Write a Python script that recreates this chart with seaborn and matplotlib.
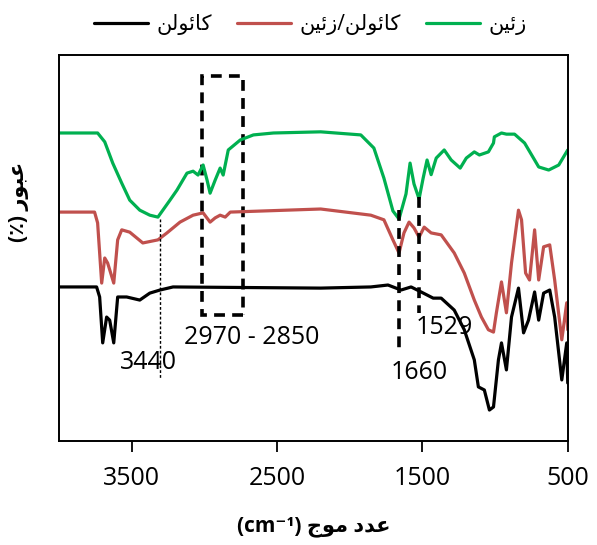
import pandas as pd
import matplotlib.pyplot as plt
import seaborn as sns
from matplotlib.patches import Rectangle

# Arabic-script labels written as visual-order presentation forms
# (matplotlib does no shaping or bidi on its own)
KAOLIN = "\uFEE6\uFEDF\uFEEE\uFE8B\uFE8E\uFB90"          # کائولن
ZEIN = "\uFEE6\uFBFF\uFE8B\uFEAF"                        # زئین
KAOLIN_ZEIN = ZEIN + "/" + KAOLIN                        # کائولن/زئین
YLABEL = "(\u066A) \uFEAD\uFEEE\uFE92\uFECB"              # عبور (٪)
XLABEL = "(cm\u207B\u00B9) \uFE9D\uFEEE\uFEE3 \uFEA9\uFEAA\uFECB"  # عدد موج (cm-1)

# zein spectrum
zein_wn = [4000, 3735, 3686, 3631, 3569, 3514, 3445, 3376, 3320, 3286, 3237, 3189,
           3120, 3078, 3044, 3009, 2982, 2961, 2926, 2892, 2871, 2836, 2753, 2663,
           2525, 2200, 1924, 1834, 1765, 1703, 1661, 1613, 1585, 1558, 1523, 1495,
           1468, 1440, 1405, 1350, 1302, 1240, 1198, 1143, 1108, 1046, 1011, 1005,
           956, 922, 866, 797, 728, 700, 631, 562, 500]
zein_t = [79.8, 79.8, 77.5, 72.0, 66.8, 62.4, 59.8, 58.5, 58.0, 59.8, 62.4, 65.0,
          69.4, 69.9, 68.9, 71.5, 67.6, 64.2, 67.6, 70.7, 68.9, 75.4, 78.0, 79.3,
          79.8, 80.1, 79.3, 75.9, 68.1, 59.6, 57.5, 64.0, 72.0, 66.6, 62.7, 68.1,
          72.8, 69.0, 73.3, 75.4, 72.8, 70.7, 73.3, 74.9, 74.1, 74.9, 77.2, 78.8,
          79.8, 79.5, 79.5, 77.2, 72.8, 71.0, 70.2, 71.5, 75.4]

# kaolin/zein spectrum
kz_wn = [4000, 3756, 3735, 3707, 3686, 3666, 3624, 3597, 3569, 3514, 3424, 3320,
         3258, 3168, 3078, 3009, 2961, 2926, 2892, 2857, 2822, 2200, 1855, 1765,
         1703, 1661, 1627, 1592, 1558, 1523, 1488, 1440, 1371, 1281, 1212, 1143,
         1094, 1046, 1011, 991, 956, 922, 887, 839, 818, 790, 763, 728, 700, 666,
         624, 590, 541, 507, 500]
kz_t = [59.3, 59.3, 56.5, 40.9, 47.4, 46.1, 40.9, 52.1, 54.7, 54.1, 51.3, 52.1,
        53.9, 56.7, 58.5, 59.1, 56.7, 57.8, 58.5, 58.0, 59.3, 60.1, 58.5, 57.3,
        52.1, 48.7, 53.9, 56.7, 55.2, 52.8, 55.4, 53.9, 53.4, 48.7, 43.5, 36.5,
        32.1, 28.8, 28.2, 33.2, 41.2, 33.2, 46.1, 59.8, 57.3, 43.5, 41.7, 54.7,
        41.7, 50.3, 50.8, 41.7, 26.2, 35.8, 28.8]

# kaolin spectrum
kaolin_wn = [4000, 3742, 3721, 3700, 3673, 3652, 3624, 3597, 3535, 3445, 3376, 3306,
             3216, 2200, 1855, 1737, 1647, 1578, 1509, 1426, 1371, 1281, 1212, 1143,
             1115, 1074, 1039, 1011, 977, 956, 922, 887, 839, 804, 770, 728, 700,
             666, 624, 590, 541, 507, 500]
kaolin_t = [39.9, 39.9, 37.3, 25.4, 32.1, 31.3, 25.4, 37.3, 37.3, 36.5, 38.3, 39.1,
            39.9, 39.6, 39.9, 40.4, 39.1, 39.9, 38.6, 37.0, 37.0, 33.9, 28.8, 21.0,
            14.0, 13.2, 8.0, 8.8, 21.0, 25.4, 18.4, 32.1, 39.6, 28.0, 31.3, 38.6,
            31.3, 38.3, 39.1, 32.1, 15.8, 25.4, 15.0]

xticks = [3500, 2500, 1500, 500]

df = pd.concat([
    pd.DataFrame({"wn": kaolin_wn, "t": kaolin_t, "sample": KAOLIN}),
    pd.DataFrame({"wn": kz_wn, "t": kz_t, "sample": KAOLIN_ZEIN}),
    pd.DataFrame({"wn": zein_wn, "t": zein_t, "sample": ZEIN}),
])

sns.set_theme(style="ticks")
plt.rcParams["font.family"] = ["Open Sans", "DejaVu Sans"]
plt.rcParams["text.color"] = "black"
plt.rcParams["axes.labelcolor"] = "black"

fig = plt.figure(figsize=(5.97, 5.45), dpi=100)
ax = fig.add_axes([0.099, 0.191, 0.852, 0.708])

palette = {KAOLIN: "black", KAOLIN_ZEIN: "#C0504D", ZEIN: "#00B050"}
sns.lineplot(data=df, x="wn", y="t", hue="sample", palette=palette,
             hue_order=[KAOLIN, KAOLIN_ZEIN, ZEIN], estimator=None,
             linewidth=2.3, ax=ax)

ax.set_xlim(4000, 500)
ax.set_ylim(0, 100)
ax.set_xticks(xticks)
ax.set_xticklabels([str(v) for v in xticks])
ax.set_yticks([])
ax.tick_params(axis="x", direction="out", length=8, width=1.3, labelsize=18,
               colors="black", pad=10)
for sp in ax.spines.values():
    sp.set_color("black")
    sp.set_linewidth(1.4)

ax.set_xlabel(XLABEL, fontsize=15, fontweight="bold", labelpad=18, color="black")
ax.set_ylabel(YLABEL, fontsize=15, fontweight="bold", color="black")
ax.yaxis.set_label_coords(-0.06, 0.62)

# band markers
ax.plot([3303, 3303], [57.5, 16.3], color="black", lw=1.0, ls=(0, (2, 1.5)))
ax.add_patch(Rectangle((2733, 32.6), 283, 62, fill=False, edgecolor="black",
                       lw=2.6, ls=(0, (3, 2))))
ax.plot([1661, 1661], [59.8, 23.1], color="black", lw=2.6, ls=(0, (3, 2)))
ax.plot([1523, 1523], [63.2, 33.2], color="black", lw=2.6, ls=(0, (3, 2)))

ax.text(3382, 20.2, "3440", fontsize=18, ha="center", va="center", color="black")
ax.text(2677, 26.9, "2970 - 2850", fontsize=18, ha="center", va="center", color="black")
ax.text(1523, 17.6, "1660", fontsize=18, ha="center", va="center", color="black")
ax.text(1350, 29.3, "1529", fontsize=18, ha="center", va="center", color="black")

handles, labels = ax.get_legend_handles_labels()
ax.get_legend().remove()
leg = fig.legend(handles, labels, loc="center", bbox_to_anchor=(0.52, 0.955), ncol=3,
                 frameon=False, fontsize=15, handlelength=2.6, columnspacing=1.2,
                 handletextpad=0.4)
for t in leg.get_texts():
    t.set_color("black")

fig.savefig("out.png", dpi=100)
